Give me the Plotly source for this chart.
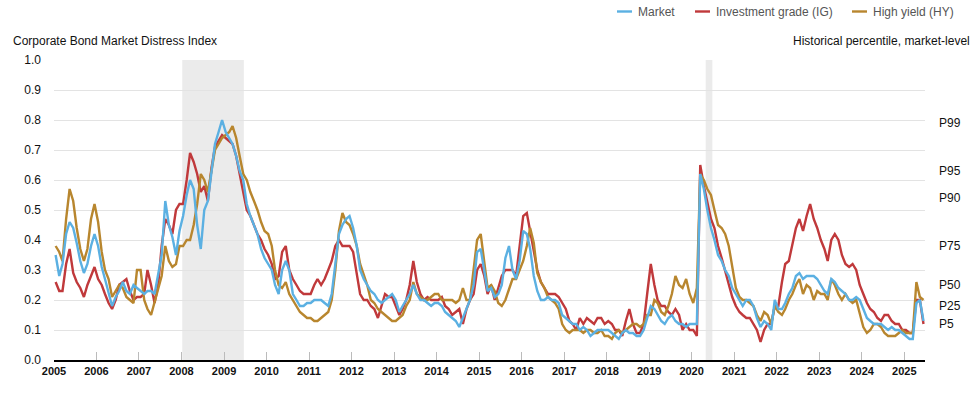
import pandas as pd
import plotly.graph_objects as go

# ---------------- data (monthly readings, Jan 2005 - Jun 2025) ----------------
start_month = "2005-01-01"

market = [
    0.35, 0.28, 0.32, 0.42, 0.46, 0.44, 0.39, 0.33, 0.29, 0.32, 0.38, 0.42,  # 2005
    0.38, 0.31, 0.27, 0.22, 0.18, 0.21, 0.23, 0.26, 0.23, 0.22, 0.25, 0.24,  # 2006
    0.23, 0.22, 0.23, 0.23, 0.22, 0.28, 0.35, 0.53, 0.45, 0.41, 0.35, 0.43,  # 2007
    0.48, 0.55, 0.60, 0.57, 0.45, 0.37, 0.50, 0.53, 0.63, 0.72, 0.76, 0.80,  # 2008
    0.76, 0.74, 0.72, 0.68, 0.63, 0.60, 0.52, 0.48, 0.45, 0.42, 0.37, 0.34,  # 2009
    0.32, 0.30, 0.25, 0.22, 0.30, 0.33, 0.30, 0.22, 0.20, 0.18, 0.18, 0.19,  # 2010
    0.19, 0.20, 0.20, 0.20, 0.19, 0.18, 0.22, 0.33, 0.42, 0.45, 0.47, 0.48,  # 2011
    0.44, 0.38, 0.30, 0.27, 0.25, 0.23, 0.22, 0.20, 0.19, 0.20, 0.21, 0.22,  # 2012
    0.20, 0.16, 0.18, 0.20, 0.22, 0.25, 0.22, 0.20, 0.20, 0.19, 0.18, 0.19,  # 2013
    0.19, 0.18, 0.16, 0.15, 0.14, 0.13, 0.11, 0.14, 0.17, 0.20, 0.25, 0.36,  # 2014
    0.37, 0.30, 0.23, 0.24, 0.21, 0.22, 0.25, 0.34, 0.38, 0.30, 0.27, 0.33,  # 2015
    0.43, 0.42, 0.37, 0.28, 0.23, 0.20, 0.20, 0.21, 0.20, 0.20, 0.19, 0.15,  # 2016
    0.14, 0.13, 0.12, 0.12, 0.10, 0.11, 0.10, 0.08, 0.09, 0.10, 0.10, 0.10,  # 2017
    0.10, 0.09, 0.08, 0.07, 0.09, 0.10, 0.09, 0.09, 0.08, 0.08, 0.10, 0.14,  # 2018
    0.18, 0.17, 0.15, 0.13, 0.12, 0.14, 0.15, 0.13, 0.12, 0.12, 0.11, 0.12,  # 2019
    0.12, 0.12, 0.62, 0.57, 0.50, 0.44, 0.40, 0.35, 0.33, 0.30, 0.28, 0.24,  # 2020
    0.22, 0.20, 0.18, 0.20, 0.20, 0.18, 0.14, 0.11, 0.13, 0.12, 0.10, 0.20,  # 2021
    0.17, 0.17, 0.19, 0.22, 0.24, 0.28, 0.29, 0.27, 0.28, 0.28, 0.28, 0.27,  # 2022
    0.25, 0.23, 0.22, 0.27, 0.26, 0.24, 0.23, 0.22, 0.20, 0.20, 0.21, 0.20,  # 2023
    0.17, 0.14, 0.13, 0.12, 0.12, 0.12, 0.11, 0.10, 0.11, 0.10, 0.10, 0.09,  # 2024
    0.08, 0.07, 0.07, 0.19, 0.20, 0.13,                                      # 2025
]

ig = [
    0.26, 0.23, 0.23, 0.32, 0.37, 0.29, 0.26, 0.24, 0.21, 0.25, 0.28, 0.31,  # 2005
    0.27, 0.25, 0.22, 0.19, 0.17, 0.20, 0.25, 0.26, 0.27, 0.23, 0.20, 0.21,  # 2006
    0.21, 0.22, 0.30, 0.25, 0.19, 0.25, 0.38, 0.47, 0.45, 0.42, 0.50, 0.52,  # 2007
    0.52, 0.60, 0.69, 0.66, 0.62, 0.56, 0.58, 0.53, 0.64, 0.71, 0.73, 0.75,  # 2008
    0.74, 0.73, 0.72, 0.68, 0.62, 0.56, 0.50, 0.48, 0.45, 0.42, 0.40, 0.37,  # 2009
    0.35, 0.32, 0.27, 0.28, 0.36, 0.38, 0.30, 0.27, 0.25, 0.23, 0.22, 0.22,  # 2010
    0.22, 0.25, 0.27, 0.25, 0.27, 0.30, 0.33, 0.38, 0.40, 0.38, 0.38, 0.38,  # 2011
    0.36, 0.28, 0.22, 0.20, 0.20, 0.18, 0.17, 0.14, 0.18, 0.22, 0.21, 0.21,  # 2012
    0.18, 0.15, 0.17, 0.20, 0.25, 0.33, 0.26, 0.22, 0.20, 0.21, 0.20, 0.20,  # 2013
    0.20, 0.21, 0.18, 0.17, 0.15, 0.16, 0.17, 0.12, 0.17, 0.20, 0.22, 0.30,  # 2014
    0.32, 0.28, 0.22, 0.25, 0.20, 0.24, 0.28, 0.30, 0.30, 0.30, 0.28, 0.38,  # 2015
    0.48, 0.49, 0.43, 0.36, 0.30, 0.26, 0.24, 0.22, 0.22, 0.22, 0.21, 0.19,  # 2016
    0.17, 0.13, 0.12, 0.10, 0.14, 0.12, 0.14, 0.13, 0.12, 0.14, 0.14, 0.12,  # 2017
    0.13, 0.12, 0.10, 0.10, 0.08, 0.13, 0.17, 0.12, 0.09, 0.09, 0.12, 0.22,  # 2018
    0.32, 0.25, 0.20, 0.18, 0.18, 0.16, 0.15, 0.17, 0.15, 0.10, 0.12, 0.10,  # 2019
    0.10, 0.08, 0.65, 0.58, 0.52, 0.47, 0.44, 0.38, 0.34, 0.30, 0.25, 0.21,  # 2020
    0.18, 0.16, 0.15, 0.14, 0.14, 0.12, 0.10, 0.06, 0.10, 0.12, 0.12, 0.18,  # 2021
    0.18, 0.26, 0.32, 0.33, 0.38, 0.44, 0.47, 0.43, 0.48, 0.52, 0.47, 0.44,  # 2022
    0.40, 0.37, 0.33, 0.40, 0.42, 0.40, 0.35, 0.32, 0.31, 0.32, 0.30, 0.25,  # 2023
    0.22, 0.19, 0.17, 0.16, 0.14, 0.13, 0.15, 0.15, 0.13, 0.12, 0.12, 0.10,  # 2024
    0.10, 0.09, 0.09, 0.20, 0.20, 0.12,                                      # 2025
]

hy = [
    0.38, 0.36, 0.33, 0.47, 0.57, 0.53, 0.44, 0.37, 0.33, 0.37, 0.47, 0.52,  # 2005
    0.46, 0.36, 0.30, 0.27, 0.21, 0.23, 0.25, 0.24, 0.21, 0.20, 0.19, 0.30,  # 2006
    0.30, 0.20, 0.17, 0.15, 0.19, 0.24, 0.28, 0.38, 0.33, 0.31, 0.32, 0.38,  # 2007
    0.38, 0.40, 0.40, 0.45, 0.52, 0.62, 0.60, 0.56, 0.63, 0.70, 0.72, 0.74,  # 2008
    0.75, 0.76, 0.78, 0.74, 0.68, 0.62, 0.60, 0.56, 0.53, 0.50, 0.46, 0.43,  # 2009
    0.42, 0.38, 0.30, 0.25, 0.24, 0.26, 0.22, 0.20, 0.18, 0.16, 0.15, 0.14,  # 2010
    0.14, 0.13, 0.13, 0.14, 0.15, 0.16, 0.20, 0.30, 0.43, 0.49, 0.46, 0.45,  # 2011
    0.42, 0.38, 0.32, 0.28, 0.25, 0.20, 0.19, 0.17, 0.16, 0.15, 0.14, 0.13,  # 2012
    0.13, 0.14, 0.15, 0.18, 0.20, 0.26, 0.22, 0.21, 0.20, 0.20, 0.21, 0.22,  # 2013
    0.22, 0.20, 0.20, 0.20, 0.20, 0.19, 0.20, 0.24, 0.20, 0.20, 0.30, 0.40,  # 2014
    0.42, 0.32, 0.24, 0.25, 0.23, 0.19, 0.18, 0.20, 0.24, 0.27, 0.27, 0.30,  # 2015
    0.33, 0.38, 0.44, 0.39, 0.29, 0.26, 0.24, 0.21, 0.20, 0.19, 0.17, 0.12,  # 2016
    0.10, 0.09, 0.10, 0.10, 0.10, 0.09, 0.10, 0.10, 0.09, 0.09, 0.10, 0.08,  # 2017
    0.08, 0.07, 0.09, 0.10, 0.09, 0.10, 0.11, 0.12, 0.12, 0.11, 0.12, 0.15,  # 2018
    0.15, 0.20, 0.19, 0.16, 0.15, 0.18, 0.22, 0.28, 0.25, 0.24, 0.27, 0.22,  # 2019
    0.19, 0.24, 0.62, 0.60, 0.57, 0.55, 0.50, 0.45, 0.44, 0.42, 0.38, 0.31,  # 2020
    0.24, 0.21, 0.20, 0.20, 0.19, 0.18, 0.15, 0.13, 0.16, 0.15, 0.12, 0.18,  # 2021
    0.16, 0.15, 0.17, 0.20, 0.22, 0.25, 0.27, 0.22, 0.25, 0.24, 0.20, 0.23,  # 2022
    0.22, 0.22, 0.20, 0.27, 0.25, 0.22, 0.20, 0.22, 0.20, 0.19, 0.20, 0.16,  # 2023
    0.11, 0.09, 0.10, 0.12, 0.12, 0.11, 0.09, 0.08, 0.08, 0.08, 0.09, 0.10,  # 2024
    0.09, 0.09, 0.09, 0.26, 0.21, 0.20,                                      # 2025
]

series_names = ["Market", "Investment grade (IG)", "High yield (HY)"]
series_colors = ["#5BB0E2", "#C0393B", "#B8862E"]

year_ticks = [str(y) for y in range(2005, 2026)]
y_ticks = [0.0, 0.1, 0.2, 0.3, 0.4, 0.5, 0.6, 0.7, 0.8, 0.9, 1.0]

pct_labels = ["P99", "P95", "P90", "P75", "P50", "P25", "P5"]
pct_values = [0.79, 0.63, 0.54, 0.38, 0.25, 0.18, 0.12]

recession_starts = ["2008-01-08", "2020-05-01"]
recession_ends = ["2009-06-20", "2020-06-27"]

# ---------------- figure ----------------
dates = pd.date_range(start_month, periods=len(market), freq="MS") + pd.Timedelta(days=14)

FONT = "Arial, Liberation Sans, sans-serif"
fig = go.Figure()

draw_order = [1, 2, 0]  # IG, HY, then Market on top
values = [market, ig, hy]
for i in draw_order:
    fig.add_trace(go.Scatter(
        x=dates, y=values[i], name=series_names[i], mode="lines",
        line=dict(color=series_colors[i], width=2.4),
        showlegend=False, hoverinfo="skip",
    ))

# invisible trace to activate right axis with percentile labels
fig.add_trace(go.Scatter(x=[dates[0]], y=[0], yaxis="y2", mode="markers",
                         marker=dict(opacity=0), showlegend=False, hoverinfo="skip"))

for s, e in zip(recession_starts, recession_ends):
    fig.add_shape(type="rect", xref="x", yref="y", x0=s, x1=e, y0=0, y1=1,
                  fillcolor="#EBEBEB", line=dict(width=0), layer="below")

# custom legend (pixel positions converted to paper coords)
L, R, T, B = 54, 925, 60, 360
W, H = R - L, B - T
def px(xp):
    return (xp - L) / W
def py(yp):
    return (B - yp) / H

legend_x = [617, 695, 852]
for name, col, lx in zip(series_names, series_colors, legend_x):
    fig.add_shape(type="line", xref="paper", yref="paper",
                  x0=px(lx), x1=px(lx + 15), y0=py(11.5), y1=py(11.5),
                  line=dict(color=col, width=2.4))
    fig.add_annotation(xref="paper", yref="paper", x=px(lx + 19), y=py(11.5),
                       text=name, showarrow=False, xanchor="left", yanchor="middle",
                       font=dict(family=FONT, size=12, color="#555555"))

fig.add_annotation(xref="paper", yref="paper", x=px(11), y=py(41.5),
                   text="Corporate Bond Market Distress Index", showarrow=False,
                   xanchor="left", yanchor="middle",
                   font=dict(family=FONT, size=12, color="#111111"))
fig.add_annotation(xref="paper", yref="paper", x=px(972), y=py(41.5),
                   text="Historical percentile, market-level", showarrow=False,
                   xanchor="right", yanchor="middle",
                   font=dict(family=FONT, size=12, color="#111111"))

fig.update_layout(
    width=977, height=396,
    margin=dict(l=L, r=977 - R, t=T, b=396 - B, pad=0),
    paper_bgcolor="white", plot_bgcolor="white",
    font=dict(family=FONT, size=12, color="#111111"),
    showlegend=False,
    xaxis=dict(
        type="date", range=["2005-01-01", "2025-06-28"],
        tickvals=[f"{y}-01-01" for y in year_ticks], ticktext=year_ticks,
        ticks="inside", ticklen=8, tickcolor="#BBBBBB", tickwidth=1,
        showgrid=False, zeroline=False,
        showline=True, linecolor="#000000", linewidth=2,
        tickfont=dict(family=FONT, size=11, color="#111111", weight="bold"),
    ),
    yaxis=dict(
        range=[0, 1], tickvals=y_ticks, tickformat=".1f",
        showgrid=True, gridcolor="#E3E3E3", gridwidth=1,
        zeroline=False, showline=False, ticks="",
        ticklabelstandoff=12,
        tickfont=dict(family=FONT, size=12, color="#111111"),
    ),
    yaxis2=dict(
        overlaying="y", side="right", range=[0, 1],
        tickvals=pct_values, ticktext=pct_labels,
        showgrid=False, zeroline=False, showline=False, ticks="",
        ticklabelstandoff=13,
        tickfont=dict(family=FONT, size=12, color="#111111"),
    ),
)

fig.write_html("out.html", config={"displayModeBar": False},
               post_script="document.body.style.margin='0';")
